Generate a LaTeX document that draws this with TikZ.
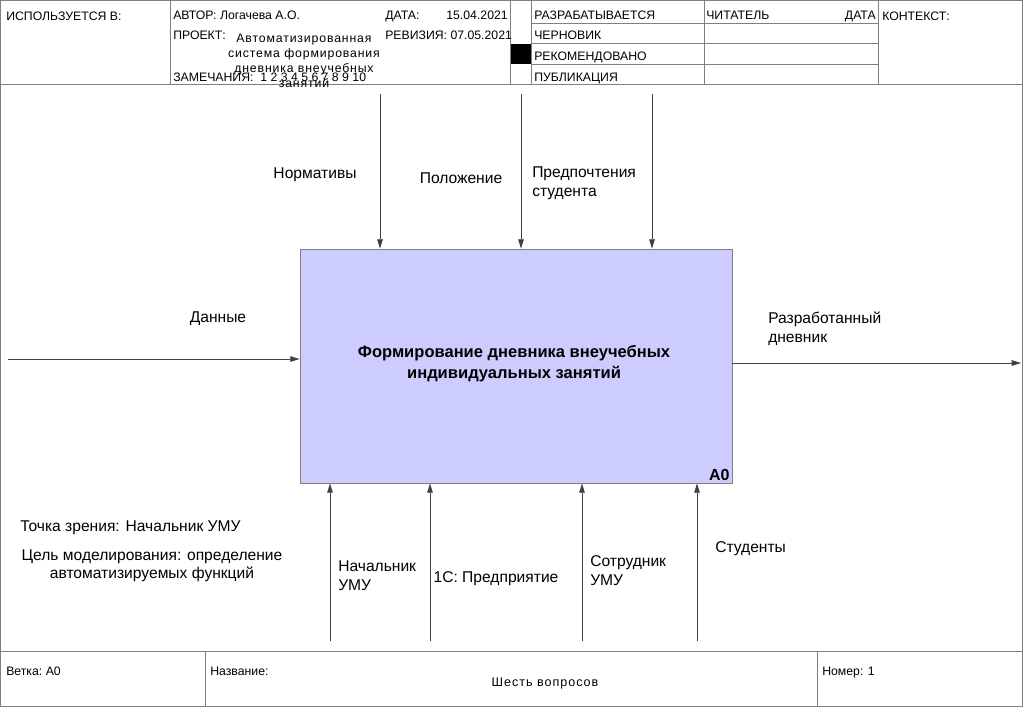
\documentclass[tikz,border=0pt]{standalone}
\usepackage{fontspec}
\setmainfont{Liberation Sans}
\usetikzlibrary{arrows.meta}

\definecolor{boxfill}{HTML}{CCCCFF}
\definecolor{rulegray}{HTML}{7F7F7F}

\tikzset{
  lbl/.style={inner sep=0pt, font=\fontsize{11.7}{14.25}\selectfont, align=left},
  hdr/.style={inner sep=0pt, anchor=base west, font=\fontsize{9.2}{10}\selectfont},
  arr/.style={draw=black!75, line width=0.5pt, -{Triangle[length=7pt,width=4.2pt]}},
  rule/.style={draw=rulegray, line width=0.6pt}
}

\begin{document}
\begin{tikzpicture}[x=0.75pt,y=-0.75pt]
  \useasboundingbox (0,0) rectangle (1023,707);
  % frame, header and footer
  \draw[rule] (0.5,0.5) rectangle (1022.5,706.5);
  \draw[rule] (0,84) -- (1023,84);
  \draw[rule] (0,651) -- (1023,651);
  \foreach \x in {170,510,531,704,878} \draw[rule] (\x,0) -- (\x,84);
  \foreach \y in {23,43,64} \draw[rule] (531,\y) -- (878,\y);
  \fill (511,44) rectangle (531,64);
  \foreach \x in {205,817} \draw[rule] (\x,651) -- (\x,707);

  % header texts
  \node[hdr] (used) at (6,20.5) {ИСПОЛЬЗУЕТСЯ В:};
  \node[hdr] (author) at (173,19.5) {АВТОР: Логачева А.О.};
  \node[hdr] (project) at (173,39.5) {ПРОЕКТ:};
  \node[hdr, anchor=center, align=center,
        font=\fontsize{9.2}{11.2}\selectfont\addfontfeature{LetterSpace=7}] (projname) at (304,61)
    {Автоматизированная\\система формирования\\дневника внеучебных\\занятий};
  \node[hdr] (notes) at (173,81.5) {ЗАМЕЧАНИЯ:\ \ 1 2 3 4 5 6 7 8 9 10};
  \node[hdr] (date) at (385,19.5) {ДАТА:};
  \node[hdr, anchor=base east] (dateval) at (508,19.5) {15.04.2021};
  \node[hdr] (rev) at (385,39.5) {РЕВИЗИЯ: 07.05.2021};
  \node[hdr] (st1) at (534,19.5) {РАЗРАБАТЫВАЕТСЯ};
  \node[hdr] (st2) at (534,39.5) {ЧЕРНОВИК};
  \node[hdr] (st3) at (534,60.5) {РЕКОМЕНДОВАНО};
  \node[hdr] (st4) at (534,81.5) {ПУБЛИКАЦИЯ};
  \node[hdr] (reader) at (706,19.5) {ЧИТАТЕЛЬ};
  \node[hdr, anchor=base east] (rdate) at (876,19.5) {ДАТА};
  \node[hdr] (context) at (882,20.5) {КОНТЕКСТ:};

  % footer texts
  \node[hdr] (branch) at (6,675.5) {Ветка:\ A0};
  \node[hdr] (title) at (210,675.5) {Название:};
  \node[hdr, anchor=base, font=\fontsize{9.4}{10}\selectfont\addfontfeature{LetterSpace=8}]
    (titleval) at (545,686.5) {Шесть вопросов};
  \node[hdr] (number) at (822,675.5) {Номер: 1};

  % function box
  \node[draw=rulegray, fill=boxfill, minimum width=432*0.75pt, minimum height=234*0.75pt,
        inner sep=0pt, line width=0.6pt] (func) at (516,366) {};
  \node[align=center, font=\bfseries\fontsize{12.4}{15.8}\selectfont] (ftext) at (514,364)
    {Формирование дневника внеучебных\\индивидуальных занятий};
  \node[anchor=south east, inner sep=2pt, font=\bfseries\fontsize{12}{13}\selectfont] (fnum)
    at (func.south east) {A0};

  % input and output
  \coordinate (in) at (8,359);
  \coordinate (out) at (1021,363);
  \draw[arr] (in) -- (in -| func.west);
  \draw[arr] (func.east |- out) -- (out);
  \node[lbl] (data) at (218,319) {Данные};
  \node[lbl, anchor=west] (result) at (768,328.5) {Разработанный\\дневник};

  % controls
  \coordinate (c1) at (380,94);
  \coordinate (c2) at (521,94);
  \coordinate (c3) at (652,94);
  \foreach \c in {c1,c2,c3} \draw[arr] (\c) -- (\c |- func.north);
  \node[lbl] (norms) at (315,175) {Нормативы};
  \node[lbl] (rules) at (461,178) {Положение};
  \node[lbl, anchor=west] (prefs) at (532,183) {Предпочтения\\студента};

  % mechanisms
  \coordinate (m1) at (330,641);
  \coordinate (m2) at (430,641);
  \coordinate (m3) at (582,641);
  \coordinate (m4) at (697,641);
  \foreach \m in {m1,m2,m3,m4} \draw[arr] (\m) -- (\m |- func.south);
  \node[lbl, anchor=west] (head) at (338,576) {Начальник\\УМУ};
  \node[lbl] (onec) at (496,579) {1С: Предприятие};
  \node[lbl, anchor=west] (staff) at (590,571) {Сотрудник\\УМУ};
  \node[lbl, anchor=west] (students) at (715,549) {Студенты};

  % viewpoint and purpose
  \node[lbl, anchor=west] (view) at (20,528) {Точка зрения: Начальник УМУ};
  \node[lbl, align=center, font=\fontsize{11.7}{13.5}\selectfont] (purpose) at (152,566)
    {Цель моделирования: определение\\автоматизируемых функций};
\end{tikzpicture}
\end{document}
